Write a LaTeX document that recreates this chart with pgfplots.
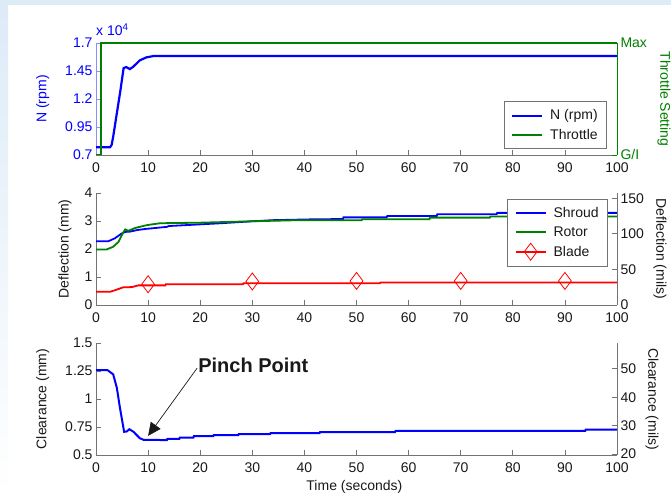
\documentclass[border=0pt]{standalone}
\usepackage{fontspec}
\setmainfont{Liberation Sans}
\usepackage{pgfplots}
\pgfplotsset{compat=1.18}
\usetikzlibrary{arrows.meta}
\definecolor{bgblue}{RGB}{221,235,247}
\definecolor{axgray}{RGB}{115,115,115}
\definecolor{txt}{RGB}{25,25,25}
\definecolor{mblue}{RGB}{0,0,255}
\definecolor{lblue}{RGB}{140,140,255}
\definecolor{mgreen}{RGB}{0,128,0}
\definecolor{mred}{RGB}{255,0,0}
\newcommand\fs{\fontsize{14}{16}\selectfont}
\pgfplotsset{
  base/.style={scale only axis, width=521pt, height=112pt, anchor=south west,
    xmin=0, xmax=100, enlargelimits=false,
    tick align=inside, major tick length=5pt,
    axis line style={axgray, line width=0.8pt},
    tick style={axgray, line width=0.8pt},
    tick label style={font=\fs, text=txt},
    xticklabel style={yshift=-4pt},
    /pgf/number format/assume math mode=true,
    label style={font=\fs, text=txt},
    legend cell align=left,
    legend style={font=\fs, draw=axgray, line width=0.8pt, text=txt, fill=white,
      inner xsep=7pt, inner ysep=6pt, row sep=3.5pt,
      /tikz/every odd column/.append style={column sep=5pt}},
    legend image code/.code={\draw[mark repeat=2,mark phase=2,##1] plot coordinates {(0pt,0pt) (15pt,0pt) (30pt,0pt)};},
  },
  leftax/.style={base, axis x line*=bottom, axis y line*=left, xtick={0,10,...,100},
    every axis y label/.style={at={(axis description cs:#1,0.5)}, rotate=90, anchor=center, font=\fs, text=txt}},
  rightax/.style={base, axis x line=none, axis y line*=right,
    every axis y label/.style={at={(axis description cs:#1,0.5)}, rotate=-90, anchor=center, font=\fs, text=txt}},
}
\begin{document}
\begin{tikzpicture}[x=1pt,y=1pt]
\useasboundingbox (0,0) rectangle (671,497);
\fill[bgblue] (0,0) rectangle (671,497);
\fill[white] (8,0) rectangle (671,492);
\shade[top color=bgblue,bottom color=white] (0,0) rectangle (8,492);

% ---------------- top panel ----------------
\begin{axis}[leftax=-0.102, at={(96pt,342pt)}, clip=false,
  ymin=0.7, ymax=1.7, ytick={0.7,0.95,1.2,1.45,1.7},
  yticklabels={0.7,0.95,1.2,1.45,1.7},
  y axis line style={lblue}, ytick style={lblue},
  yticklabel style={text=mblue}, ylabel style={text=mblue},
  ylabel={N (rpm)}]
\addplot[mblue, line width=2.2pt] coordinates {(0,0.769) (2.7,0.769) (3.0,0.79) (3.3,0.864) (4.0,1.073) (4.7,1.28) (5.3,1.476) (5.8,1.485) (6.5,1.467) (7.2,1.49) (8.4,1.545) (9.7,1.572) (11,1.583) (100,1.583)};
\node[anchor=south west, inner sep=0pt, text=mblue, font=\fs] at (axis description cs:0,1.06) {x 10\textsuperscript{4}};
\end{axis}
\begin{axis}[rightax=1.09, at={(96pt,342pt)},
  ymin=0, ymax=1, ytick={0,1}, yticklabels={G/I,Max},
  y axis line style={mgreen}, ytick style={mgreen},
  yticklabel style={text=mgreen}, ylabel style={text=mgreen},
  ylabel={Throttle Setting},
  legend style={at={(axis description cs:0.981,0.054)}, anchor=south east}]
\addlegendimage{mblue, line width=2pt}
\addlegendentry{N (rpm)}
\addplot[mgreen, line width=2.2pt] coordinates {(0,0) (0.9,0) (0.9,1) (100,1)};
\addlegendentry{Throttle}
\end{axis}

% ---------------- middle panel ----------------
\begin{axis}[leftax=-0.0595, at={(96pt,192pt)}, clip=false,
  ymin=0, ymax=4, ytick={0,1,2,3,4},
  ylabel={Deflection (mm)},
  legend style={at={(axis description cs:0.983,0.946)}, anchor=north east}]
\addplot[mblue, line width=1.8pt] coordinates {(0,2.28) (2.4,2.28) (3.6,2.38) (4.9,2.55) (5.6,2.61) (6.5,2.62) (8,2.68) (9.7,2.72) (13.6,2.79) (14,2.82) (20,2.88) (24,2.92) (30,2.99) (34,3.03) (41.7,3.06) (47.4,3.07) (47.5,3.13) (55.8,3.13) (55.9,3.18) (65.4,3.18) (65.5,3.24) (76.9,3.24) (77,3.29) (100,3.29)};
\addlegendentry{Shroud}
\addplot[mgreen, line width=1.8pt] coordinates {(0,1.98) (2,1.98) (3.3,2.08) (4.3,2.25) (5.1,2.55) (5.6,2.70) (6.2,2.65) (7.5,2.75) (9.7,2.85) (12.3,2.92) (20,2.94) (30,2.99) (39,3.03) (51,3.03) (51.1,3.06) (64,3.06) (64.1,3.12) (75.6,3.12) (75.7,3.16) (100,3.16)};
\addlegendentry{Rotor}
\addplot[mred, line width=1.8pt, forget plot] coordinates {(0,0.47) (2.7,0.47) (4,0.55) (5.2,0.63) (6.9,0.64) (8.1,0.70) (13.3,0.70) (13.4,0.74) (28.2,0.74) (28.3,0.78) (54.5,0.78) (54.6,0.80) (100,0.80)};
\addplot[mred, only marks, mark=diamond, mark size=8.5pt, mark options={line width=0.8pt, fill=none}, forget plot] coordinates {(10,0.74) (30,0.84) (50,0.86) (70,0.86) (90,0.86)};
\addlegendimage{mred, line width=1.8pt, mark=diamond, mark size=8.5pt, mark options={line width=0.8pt, fill=none}}
\addlegendentry{Blade}
\end{axis}
\begin{axis}[rightax=1.0825, at={(96pt,192pt)},
  ymin=0, ymax=157.48, ytick={0,50,100,150},
  ylabel={Deflection (mils)}]
\end{axis}

% ---------------- bottom panel ----------------
\begin{axis}[leftax=-0.102, at={(96pt,42pt)}, clip=false,
  ymin=0.5, ymax=1.5, ytick={0.5,0.75,1,1.25,1.5},
  yticklabels={0.5,0.75,1,1.25,1.5},
  ylabel={Clearance (mm)},
  xlabel={Time (seconds)},
  xlabel style={at={(axis description cs:0.496,-0.283)}, anchor=center}]
\addplot[mblue, line width=2pt] coordinates {(0,1.258) (2.2,1.258) (3.3,1.22) (4.0,1.10) (4.6,0.92) (5.05,0.80) (5.4,0.707) (5.9,0.71) (6.4,0.73) (7.2,0.707) (8.4,0.65) (9.1,0.636) (13.6,0.633) (13.7,0.645) (16,0.645) (16.1,0.656) (18.7,0.656) (18.8,0.669) (22.5,0.669) (22.6,0.678) (27.3,0.678) (27.4,0.687) (33.4,0.687) (33.5,0.695) (42.9,0.695) (43,0.705) (57.4,0.705) (57.5,0.716) (93.9,0.716) (94,0.727) (100,0.727)};
\node[font=\fontsize{20}{22}\selectfont\bfseries, text=txt, anchor=center] at (axis cs:30.2,1.30) {Pinch Point};
\draw[txt, line width=0.7pt, -{Triangle[length=13pt,width=12pt]}] (axis cs:19.4,1.275) -- (axis cs:10.0,0.671);
\end{axis}
\begin{axis}[rightax=1.067, at={(96pt,42pt)},
  ymin=19.685, ymax=59.055, ytick={20,30,40,50},
  ylabel={Clearance (mils)}]
\end{axis}
\end{tikzpicture}
\end{document}
